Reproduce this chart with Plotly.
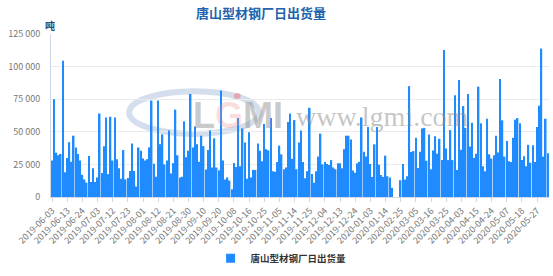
import plotly.graph_objects as go
import pandas as pd

title_text = "唐山型材钢厂日出货量"
series_name = "唐山型材钢厂日出货量"
unit_text = "吨"

# trading-day calendar of the categories
first_day = "2019-06-03"
last_day = "2020-06-03"
holidays = ["2019-06-07", "2019-09-13", "2019-10-01", "2019-10-02", "2019-10-03",
            "2019-10-04", "2019-10-07", "2020-01-01", "2020-04-06", "2020-05-01",
            "2020-05-04", "2020-05-05"]
closed_from = "2020-01-23"
closed_to = "2020-02-24"
makeup_days = ["2019-10-12", "2020-04-26"]

# daily shipments (tonnes)
shipments = [
    28000, 75000, 34000, 32000, 33000, 104500, 19000, 30000, 42000, 27000,
    47000, 38000, 33000, 28000, 17000, 13500, 11000, 31500, 11500, 22000,
    11500, 15000, 64000, 18500, 39000, 61000, 17500, 61500, 28000, 61000,
    29000, 22000, 14000, 36000, 13500, 14500, 20000, 41000, 20000, 8000,
    38000, 35500, 29500, 28000, 29000, 38000, 74000, 25500, 15500, 74000,
    40500, 48000, 25000, 28000, 51000, 18000, 26000, 67000, 32000, 15000,
    15500, 58000, 30500, 35500, 79000, 38000, 54000, 40500, 27000, 47000,
    39000, 21000, 36000, 51000, 22600, 45000, 22600, 20600, 81600, 28000,
    13400, 15000, 12600, 6000, 26000, 23000, 60500, 23600, 52600, 41700,
    13900, 49600, 15000, 20800, 20800, 41000, 35500, 27500, 56000, 36700,
    35700, 60500, 19800, 19300, 26800, 39400, 32700, 21300, 22600, 57500,
    64000, 29300, 59000, 21300, 41700, 51000, 26800, 14400, 19800, 68400,
    17600, 11000, 19800, 31000, 48600, 25000, 26800, 25300, 24600, 28300,
    22600, 21300, 25800, 25800, 22000, 36700, 47000, 47000, 44000, 20300,
    18600, 25800, 27000, 61000, 34700, 31000, 53600, 25300, 15400, 40400,
    53600, 24800, 16800, 15400, 31700, 15900, 15000, 7000, 0, 0,
    0, 12900, 25300, 13400, 15900, 85000, 34500, 35200, 45400, 22300,
    34700, 52600, 53000, 27800, 48000, 21300, 35700, 46600, 33200, 44600,
    28300, 112800, 37200, 28300, 51300, 28300, 78000, 20800, 89800, 36200,
    69700, 53000, 79000, 38700, 57000, 30000, 33200, 84600, 56500, 23600,
    19800, 60000, 32700, 29500, 32000, 47000, 34200, 90500, 58800, 31000,
    42900, 27500, 26800, 45400, 59300, 60500, 56500, 28300, 31200, 23600,
    40000, 26300, 39700, 26800, 53600, 70000, 113800, 31000, 60000, 33500,
]

y_ticks = [0, 25000, 50000, 75000, 100000, 125000]
label_every = 7
bar_color = "#1f8bff"

days = pd.bdate_range(first_day, last_day)
closed = set(pd.to_datetime(holidays)) | set(pd.date_range(closed_from, closed_to))
days = [d for d in days if d not in closed] + list(pd.to_datetime(makeup_days))
dates = [d.strftime("%Y-%m-%d") for d in sorted(days)]
assert len(dates) == len(shipments), (len(dates), len(shipments))
assert dates[224] == "2020-05-27", dates[224]

tick_dates = dates[::label_every]

fig = go.Figure()
fig.add_trace(go.Bar(
    x=dates, y=shipments, name=series_name, showlegend=False,
    marker=dict(color=bar_color, line=dict(width=0)),
))
# legend entry with a small square key
fig.add_trace(go.Scatter(
    x=[None], y=[None], mode="markers", name="<b>" + series_name + "</b>",
    marker=dict(symbol="square", size=9, color=bar_color), showlegend=True,
))

axis_line = "#cfd7e6"
fig.update_layout(
    width=553, height=276, autosize=False,
    margin=dict(l=51, r=4, t=34, b=74),
    paper_bgcolor="white", plot_bgcolor="white",
    font=dict(family="Noto Sans CJK SC, Noto Sans, sans-serif", color="#666"),
    separators=". ",
    bargap=0.3,
    title=dict(text="<b>" + title_text + "</b>", x=0.472, y=0.953,
               xanchor="center", yanchor="middle",
               font=dict(size=13, color="#2263ad")),
    showlegend=True,
    legend=dict(orientation="h", x=0.462, xanchor="center", y=-0.375, yanchor="middle",
                font=dict(size=9.5, color="#333"), itemwidth=30),
    xaxis=dict(type="category", tickmode="array", tickvals=tick_dates, ticktext=tick_dates,
               tickangle=-45, tickfont=dict(size=9, color="#777"),
               showline=True, linecolor=axis_line, ticks="outside", ticklen=4,
               tickcolor=axis_line, showgrid=False),
    yaxis=dict(range=[0, 125000], tickvals=y_ticks, tickformat=",d",
               tickfont=dict(size=9, color="#777"), showline=True, linecolor=axis_line,
               gridcolor="#ebebeb", zeroline=False, ticklabelstandoff=8),
)

# unit label
fig.add_annotation(text="<b>" + unit_text + "</b>", xref="paper", yref="paper",
                   x=-0.016, y=1.113, showarrow=False, font=dict(size=10, color="#2c4a70"))

# watermark (logo ring, letters, site)
fig.add_shape(type="circle", xref="paper", yref="paper", x0=0.157, x1=0.418, y0=0.387, y1=0.649,
              line=dict(color="rgba(150,172,210,0.4)", width=6), layer="below")
fig.add_shape(type="circle", xref="paper", yref="paper", x0=0.367, x1=0.381, y0=0.602, y1=0.638,
              line=dict(width=0), fillcolor="rgba(240,120,130,0.55)", layer="below")
fig.add_annotation(text="<b>L<span style='color:rgba(240,140,140,0.6)'>G</span>MI</b>",
                   xref="paper", yref="paper", x=0.282, y=0.5, showarrow=False,
                   font=dict(size=36, color="rgba(150,150,150,0.5)",
                             family="Liberation Sans, Arial, sans-serif"))
fig.add_annotation(text="www.lgmi.com", xref="paper", yref="paper", x=0.665, y=0.494,
                   showarrow=False,
                   font=dict(size=28, color="rgba(140,140,140,0.5)",
                             family="Liberation Serif, DejaVu Serif, serif"))

fig.write_html("out.html")
